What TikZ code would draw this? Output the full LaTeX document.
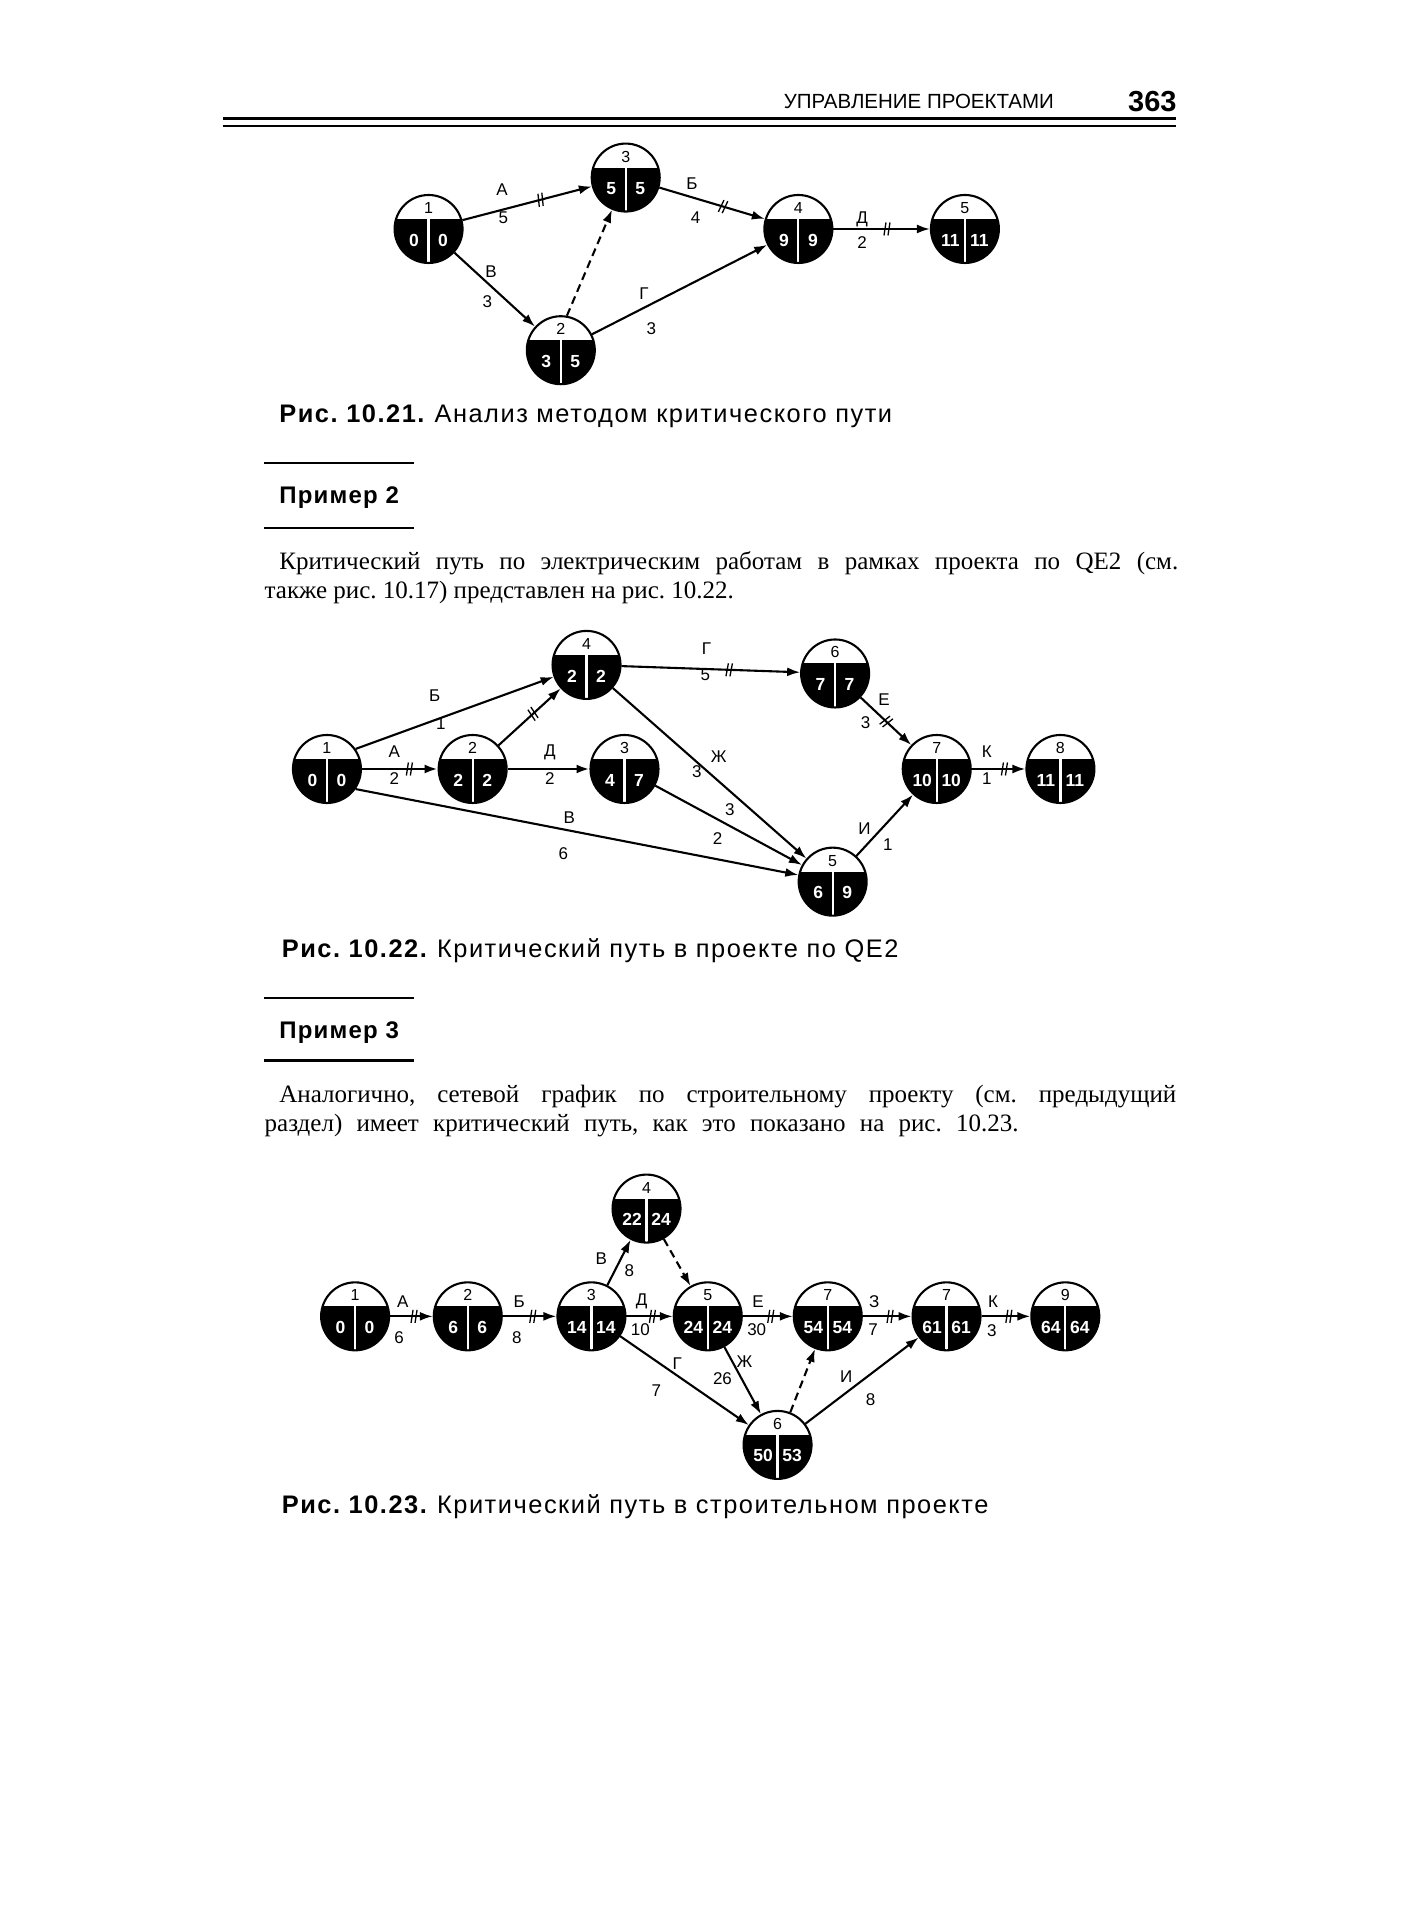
\documentclass[tikz,border=0pt]{standalone}
\usepackage{fontspec}
\setmainfont{Liberation Serif}
\setsansfont{Liberation Sans}
\usetikzlibrary{arrows.meta,decorations.markings,calc}
\frenchspacing

\newcommand\evr{34pt}
% event circle: name, position, number, early, late
\newcommand\evt[5]{%
  \node[ev] (#1) at (#2) {};
  \begin{scope}
    \clip (#1.center) circle (\evr);
    \fill ($(#1.center)+(-40pt,10pt)$) rectangle ($(#1.center)+(40pt,-40pt)$);
  \end{scope}
  \draw[white,line width=2.2pt] ($(#1.center)+(0pt,10pt)$) -- ($(#1.center)+(0pt,-\evr)$);
  \draw[line width=2.1pt] (#1.center) circle (\evr);
  \node[evtop] (#1-n) at ($(#1.center)+(0pt,21pt)$) {#3};
  \node[evnum] (#1-e) at ($(#1.center)+(-14.5pt,-11pt)$) {#4};
  \node[evnum] (#1-l) at ($(#1.center)+(14.5pt,-11pt)$) {#5};
}

\tikzset{
  ev/.style={circle,minimum size=68pt,inner sep=0pt,outer sep=1pt},
  evtop/.style={font=\sffamily\fontsize{16}{16}\selectfont,inner sep=0pt},
  evnum/.style={font=\sffamily\bfseries\fontsize{17.5}{17.5}\selectfont,text=white,inner sep=0pt},
  act/.style={line width=2.1pt,-{Latex[length=13pt,width=9pt]}},
  heavy act/.style={act,line width=2.9pt},
  dummy/.style={act,dash pattern=on 8pt off 5pt},
  crit/.style={postaction={decorate,decoration={markings,
      mark=at position #1 with {\draw[-,line width=1.3pt] (-2.5pt,-6.5pt) -- (-0.5pt,6.5pt) (1.5pt,-6.5pt) -- (3.5pt,6.5pt);}}}},
  crit/.default=0.6,
  lbl/.style={font=\sffamily\fontsize{17}{17}\selectfont,inner sep=0pt},
  body/.style={font=\rmfamily\fontsize{25}{25}\selectfont,anchor=base west,inner sep=0pt},
  figcap/.style={font=\sffamily\fontsize{25.4}{25.4}\selectfont\addfontfeatures{LetterSpace=6},anchor=base west,inner sep=0pt},
  exhead/.style={font=\sffamily\bfseries\fontsize{24}{24}\selectfont\addfontfeatures{LetterSpace=5},anchor=base west,inner sep=0pt},
  rulebar/.style={line width=2.4pt}
}

\begin{document}
\begin{tikzpicture}[x=1.2247pt,y=-1.2247pt]
\useasboundingbox[fill=white] (0,0) rectangle (1166,1568);

% running head
\node[font=\sffamily\fontsize{20.5}{20.5}\selectfont,anchor=base west,inner sep=0pt] (runhead) at (640,89) {УПРАВЛЕНИЕ ПРОЕКТАМИ};
\node[font=\sffamily\bfseries\fontsize{29}{29}\selectfont,anchor=base east,inner sep=0pt] (pageno) at (961,91) {363};
\draw[line width=2.8pt] (182,97) -- (960,97);
\draw[line width=1.4pt] (182,103) -- (960,103);

% Fig. 10.21
\evt{a1}{350,187}{1}{0}{0}
\evt{a3}{511,145}{3}{5}{5}
\evt{a4}{652,187}{4}{9}{9}
\evt{a5}{788,187}{5}{11}{11}
\evt{a2}{458,286}{2}{3}{5}
\draw[act,crit] (a1) -- (a3);
\draw[act,crit] (a3) -- (a4);
\draw[act,crit=0.55] (a4) -- (a5);
\draw[act] (a1) -- (a2);
\draw[act] (a2) -- (a4);
\draw[dummy] (a2.80) -- (a3);
\node[lbl] (aA) at (410,155) {А};
\node[lbl] (aA-d) at (411,178) {5};
\node[lbl] (aB) at (565,150) {Б};
\node[lbl] (aB-d) at (568,178) {4};
\node[lbl] (aV) at (401,222) {В};
\node[lbl] (aV-d) at (398,246) {3};
\node[lbl] (aG) at (526,240) {Г};
\node[lbl] (aG-d) at (532,268) {3};
\node[lbl] (aD) at (704,179) {Д};
\node[lbl] (aD-d) at (704,198) {2};
\node[figcap] (cap1) at (228,345) {\textbf{Рис. 10.21.} Анализ методом критического пути};

% Example 2
\draw[rulebar] (216,378) -- (338,378);
\node[exhead] (ex2) at (228,411) {Пример 2};
\draw[rulebar] (216,431) -- (338,431);
\node[body] (p2a) at (228,465) {\makebox[899pt][s]{Критический путь по электрическим работам в рамках проекта по QE2 (см.}};
\node[body] (p2b) at (216,489) {также рис. 10.17) представлен на рис. 10.22.};

% Fig. 10.22
\evt{b1}{267,628}{1}{0}{0}
\evt{b2}{386,628}{2}{2}{2}
\evt{b3}{510,628}{3}{4}{7}
\evt{b4}{479,543}{4}{2}{2}
\evt{b6}{682,550}{6}{7}{7}
\evt{b7}{765,628}{7}{10}{10}
\evt{b8}{866,628}{8}{11}{11}
\evt{b5}{680,720}{5}{6}{9}
\draw[act] (b1.35) -- (b4);
\draw[heavy act,crit=0.62] (b1) -- (b2);
\draw[act,crit=0.55] (b2) -- (b4);
\draw[heavy act] (b2) -- (b3);
\draw[act] (b1.-35) -- (b5);
\draw[act,crit] (b4) -- (b6);
\draw[act] (b4) -- (b5);
\draw[act] (b3) -- (b5);
\draw[act,crit=0.5] (b6) -- (b7);
\draw[act] (b5) -- (b7);
\draw[act,crit] (b7) -- (b8);
\node[lbl] (bB) at (355,568) {Б};
\node[lbl] (bB-d) at (360,591) {1};
\node[lbl] (bA) at (322,614) {А};
\node[lbl] (bA-d) at (322,636) {2};
\node[lbl] (bD) at (449,614) {Д};
\node[lbl] (bD-d) at (449,636) {2};
\node[lbl] (bG) at (577,530) {Г};
\node[lbl] (bG-d) at (576,551) {5};
\node[lbl] (bZh) at (587,618) {Ж};
\node[lbl] (bZh-d) at (569,630) {3};
\node[lbl] (b35-d) at (596,661) {3};
\node[lbl] (b35-e) at (586,685) {2};
\node[lbl] (bV) at (465,668) {В};
\node[lbl] (bV-d) at (460,697) {6};
\node[lbl] (bE) at (722,571) {Е};
\node[lbl] (bE-d) at (707,590) {3};
\node[lbl] (bI) at (706,677) {И};
\node[lbl] (bI-d) at (725,690) {1};
\node[lbl] (bK) at (806,614) {К};
\node[lbl] (bK-d) at (806,636) {1};
\node[figcap] (cap2) at (230,782) {\textbf{Рис. 10.22.} Критический путь в проекте по QE2};

% Example 3
\draw[rulebar] (216,815) -- (338,815);
\node[exhead] (ex3) at (228,848) {Пример 3};
\draw[rulebar] (216,866) -- (338,866);
\node[body] (p3a) at (228,900) {\makebox[897pt][s]{Аналогично, сетевой график по строительному проекту (см. предыдущий}};
\node[body] (p3b) at (216,924) {\makebox[754pt][s]{раздел) имеет критический путь, как это показано на рис. 10.23.}};

% Fig. 10.23
\evt{c1}{290,1075}{1}{0}{0}
\evt{c2}{382,1075}{2}{6}{6}
\evt{c3}{483,1075}{3}{14}{14}
\evt{c4}{528,987}{4}{22}{24}
\evt{c5}{578,1075}{5}{24}{24}
\evt{c7}{676,1075}{7}{54}{54}
\evt{c8}{773,1075}{7}{61}{61}
\evt{c9}{870,1075}{9}{64}{64}
\evt{c6}{635,1180}{6}{50}{53}
\draw[act,crit=0.55] (c1) -- (c2);
\draw[act,crit=0.55] (c2) -- (c3);
\draw[act,crit=0.55] (c3) -- (c5);
\draw[act,crit=0.55] (c5) -- (c7);
\draw[act,crit=0.55] (c7) -- (c8);
\draw[act,crit=0.55] (c8) -- (c9);
\draw[act] (c3) -- (c4);
\draw[dummy] (c4) -- (c5);
\draw[act] (c3) -- (c6);
\draw[act] (c5) -- (c6);
\draw[dummy] (c6) -- (c7);
\draw[act] (c6) -- (c8);
\node[lbl] (cA) at (329,1063) {А};
\node[lbl] (cA-d) at (326,1092) {6};
\node[lbl] (cB) at (424,1063) {Б};
\node[lbl] (cB-d) at (422,1092) {8};
\node[lbl] (cV) at (491,1028) {В};
\node[lbl] (cV-d) at (514,1038) {8};
\node[lbl] (cD) at (524,1063) {Д};
\node[lbl] (cD-d) at (523,1086) {10};
\node[lbl] (cE) at (619,1063) {Е};
\node[lbl] (cE-d) at (618,1086) {30};
\node[lbl] (cZ) at (714,1063) {З};
\node[lbl] (cZ-d) at (713,1086) {7};
\node[lbl] (cK) at (811,1063) {К};
\node[lbl] (cK-d) at (810,1087) {3};
\node[lbl] (cG) at (553,1114) {Г};
\node[lbl] (cG-d) at (536,1136) {7};
\node[lbl] (cZh) at (608,1112) {Ж};
\node[lbl] (cZh-d) at (590,1126) {26};
\node[lbl] (cI) at (691,1124) {И};
\node[lbl] (cI-d) at (711,1143) {8};
\node[figcap] (cap3) at (230,1236) {\textbf{Рис. 10.23.} Критический путь в строительном проекте};
\end{tikzpicture}
\end{document}
